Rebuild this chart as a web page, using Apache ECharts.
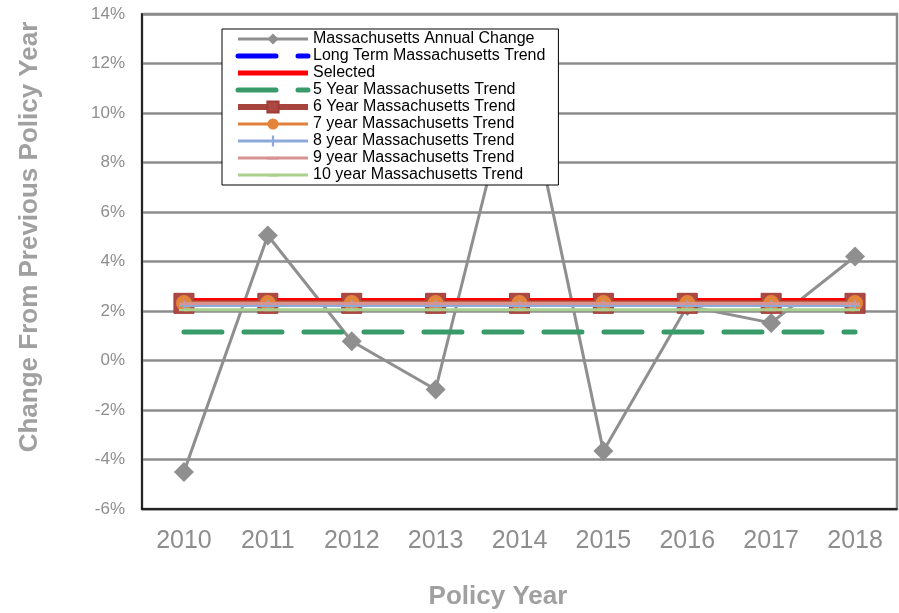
<!DOCTYPE html>
<html>
<head>
<meta charset="utf-8">
<script src="https://cdn.jsdelivr.net/npm/echarts@6/dist/echarts.min.js"></script>
<style>
  html, body { margin: 0; padding: 0; background: #fff; }
  #chart { width: 899px; height: 613px; }
</style>
</head>
<body>
<div id="chart"></div>
<script>
// Policy years on the category axis
const years = ['2010', '2011', '2012', '2013', '2014', '2015', '2016', '2017', '2018'];

// Year-over-year change in percent
const annualChange = [-4.5, 5.05, 0.78, -1.17, 12.4, -3.66, 2.2, 1.52, 4.2];

// Flat trend rates in percent (one level per trend)
const longTermTrend = 2.42;
const selectedTrend = 2.42;
const fiveYearTrend = 1.15;
const sixYearTrend = 2.31;
const sevenYearTrend = 2.32;
const eightYearTrend = 2.22;
const nineYearTrend = 2.3;
const tenYearTrend = 2.05;

// Y axis range and step (percent)
const yMin = -6;
const yMax = 14;
const yStep = 2;

const flat = v => years.map(() => v);

const FONT = 'Liberation Sans, Arial, sans-serif';
const plusPath = 'path://M4,0h2v4h4v2h-4v4h-2v-4h-4v-2h4z';
const dashPath = 'path://M0,0M0,10M0,4h10v2.4h-10z';

const chart = echarts.init(document.getElementById('chart'), null, { renderer: 'canvas' });

// legend entry helper: explicit line width, optional hidden marker
const entry = (name, width, hideMarker) => {
  const e = { name: name, lineStyle: { width: width } };
  if (hideMarker) e.itemStyle = { opacity: 0 };
  return e;
};

chart.setOption({
  animation: false,
  backgroundColor: '#ffffff',
  textStyle: { fontFamily: FONT },
  grid: {
    left: 142, right: 2, top: 14, bottom: 104,
    show: true, borderColor: '#8c8c8c', borderWidth: 2.5, backgroundColor: 'transparent'
  },
  legend: {
    orient: 'vertical',
    left: 222, top: 29,
    padding: [2, 13, 2, 13],
    itemWidth: 70, itemHeight: 14, itemGap: 1,
    backgroundColor: '#ffffff',
    borderColor: '#000000', borderWidth: 1,
    selectedMode: false,
    textStyle: { color: '#000000', fontSize: 16, fontFamily: FONT },
    data: [
      entry('Massachusetts Annual Change', 3),
      entry('Long Term Massachusetts Trend', 5, true),
      entry('Selected', 5, true),
      entry('5 Year Massachusetts Trend', 5, true),
      entry('6 Year Massachusetts Trend', 6),
      entry('7 year Massachusetts Trend', 3),
      entry('8 year Massachusetts Trend', 3),
      entry('9 year Massachusetts Trend', 3),
      entry('10 year Massachusetts Trend', 3)
    ]
  },
  xAxis: {
    type: 'category',
    data: years,
    boundaryGap: true,
    axisLine: { show: true, onZero: false, lineStyle: { color: '#000000', width: 1.5 } },
    axisTick: { show: false },
    axisLabel: { color: '#8e8e8e', fontSize: 25, margin: 20, fontFamily: FONT },
    splitLine: { show: false }
  },
  yAxis: {
    type: 'value',
    min: yMin, max: yMax, interval: yStep,
    axisLine: { show: true, onZero: false, lineStyle: { color: '#000000', width: 1.5 } },
    axisTick: { show: false },
    axisLabel: { color: '#8e8e8e', fontSize: 17, margin: 17, formatter: '{value}%', fontFamily: FONT },
    splitLine: { show: true, lineStyle: { color: '#8c8c8c', width: 2.5 } }
  },
  graphic: [
    {
      type: 'text', x: 30, y: 237, rotation: Math.PI / 2,
      style: {
        text: 'Change From Previous Policy Year',
        font: 'bold 26px ' + FONT, fill: '#a0a0a0',
        textAlign: 'center', textVerticalAlign: 'middle'
      }
    },
    {
      type: 'text', x: 498, y: 597,
      style: {
        text: 'Policy Year',
        font: 'bold 26px ' + FONT, fill: '#a0a0a0',
        textAlign: 'center', textVerticalAlign: 'middle'
      }
    }
  ],
  series: [
    {
      name: 'Massachusetts Annual Change', type: 'line', z: 2,
      data: annualChange,
      symbol: 'diamond', symbolSize: 20,
      lineStyle: { color: '#8f8f8f', width: 3 },
      itemStyle: { color: '#8f8f8f' }
    },
    {
      name: 'Long Term Massachusetts Trend', type: 'line', z: 3,
      data: flat(longTermTrend), symbol: 'none',
      lineStyle: { color: '#0000ff', width: 5, type: [38, 22], cap: 'round' },
      itemStyle: { color: '#0000ff' }
    },
    {
      name: 'Selected', type: 'line', z: 4,
      data: flat(selectedTrend), symbol: 'none',
      lineStyle: { color: '#ff0000', width: 5 },
      itemStyle: { color: '#ff0000' }
    },
    {
      name: '5 Year Massachusetts Trend', type: 'line', z: 5,
      data: flat(fiveYearTrend), symbol: 'none',
      lineStyle: { color: '#389b69', width: 5, type: [38, 22], cap: 'round' },
      itemStyle: { color: '#389b69' }
    },
    {
      name: '6 Year Massachusetts Trend', type: 'line', z: 6,
      data: flat(sixYearTrend),
      symbol: 'rect', symbolSize: 20,
      lineStyle: { color: '#a8443e', width: 6 },
      itemStyle: { color: '#ad4943', borderColor: '#a03c36', borderWidth: 1 }
    },
    {
      name: '7 year Massachusetts Trend', type: 'line', z: 7,
      data: flat(sevenYearTrend),
      symbol: 'circle', symbolSize: 16,
      lineStyle: { color: '#e0803a', width: 3 },
      itemStyle: { color: '#e3843a' }
    },
    {
      name: '8 year Massachusetts Trend', type: 'line', z: 8,
      data: flat(eightYearTrend),
      symbol: plusPath, symbolSize: 10,
      lineStyle: { color: '#8eaadb', width: 3 },
      itemStyle: { color: '#8eaadb' }
    },
    {
      name: '9 year Massachusetts Trend', type: 'line', z: 9,
      data: flat(nineYearTrend),
      symbol: dashPath, symbolSize: 10,
      lineStyle: { color: '#d79392', width: 3 },
      itemStyle: { color: '#d79392' }
    },
    {
      name: '10 year Massachusetts Trend', type: 'line', z: 10,
      data: flat(tenYearTrend),
      symbol: dashPath, symbolSize: 10,
      lineStyle: { color: '#a9d08e', width: 3 },
      itemStyle: { color: '#a9d08e' }
    }
  ]
});
</script>
</body>
</html>
